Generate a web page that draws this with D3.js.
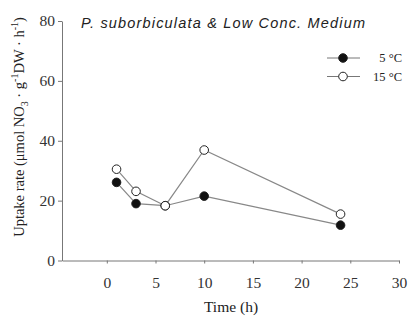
<!DOCTYPE html>
<html>
<head>
<meta charset="utf-8">
<script src="https://cdn.jsdelivr.net/npm/d3@7"></script>
<style>
  body { margin: 0; background: #fff; }
  svg { display: block; }
</style>
</head>
<body>
<div id="app"></div>
<script>
// data
const times = [1, 3, 6, 10, 24]
const cold = [26.1, 19.0, 18.3, 21.5, 11.8]   // 5 °C
const warm = [30.5, 23.1, 18.3, 36.9, 15.5]   // 15 °C
const xTicks = [0, 5, 10, 15, 20, 25, 30]
const yTicks = [0, 20, 40, 60, 80]

const W = 417, H = 322
const svg = d3.select('#app').append('svg').attr('width', W).attr('height', H)

const x = d3.scaleLinear().domain([-4.6, 30]).range([62, 399])
const y = d3.scaleLinear().domain([0, 80]).range([260.5, 21])

const serif = '"Liberation Serif", "Times New Roman", serif'

// axes
const xAxis = svg.append('g').attr('transform', 'translate(0,260.5)')
  .call(d3.axisBottom(x).tickValues(xTicks).tickSize(3).tickPadding(13).tickSizeOuter(0))
const yAxis = svg.append('g').attr('transform', 'translate(62,0)')
  .call(d3.axisLeft(y).tickValues(yTicks).tickSize(4).tickPadding(3).tickSizeOuter(0))

for (const a of [xAxis, yAxis]) {
  a.select('.domain').attr('stroke', '#777')
  a.selectAll('.tick line').attr('stroke', '#777')
  a.selectAll('.tick text').attr('fill', '#333').style('font-family', serif).style('font-size', '15.5px')
}

// lines + markers
const line = d3.line().x((d, i) => x(times[i])).y(d => y(d))
const series = [
  {vals: warm, fill: '#fff'},
  {vals: cold, fill: '#111'}
]
for (const s of series) {
  svg.append('path').attr('d', line(s.vals)).attr('fill', 'none').attr('stroke', '#888').attr('stroke-width', 1.2)
}
// draw filled first so open markers sit on top at the shared point
for (const s of [series[1], series[0]]) {
  svg.selectAll(null).data(s.vals).enter().append('circle')
    .attr('cx', (d, i) => x(times[i])).attr('cy', d => y(d)).attr('r', 4.3)
    .attr('fill', s.fill).attr('stroke', '#222').attr('stroke-width', 1)
}

// title
svg.append('text').attr('x', 81).attr('y', 28)
  .attr('textLength', 284).attr('lengthAdjust', 'spacing')
  .style('font-family', '"Liberation Sans", Arial, sans-serif').style('font-style', 'italic')
  .style('font-size', '14.5px').attr('fill', '#222')
  .text('P. suborbiculata & Low Conc. Medium')

// legend
const legend = [{label: '5 °C', fill: '#111', yy: 58}, {label: '15 °C', fill: '#fff', yy: 76.5}]
for (const l of legend) {
  svg.append('line').attr('x1', 327).attr('x2', 360).attr('y1', l.yy).attr('y2', l.yy).attr('stroke', '#777')
  svg.append('circle').attr('cx', 343).attr('cy', l.yy).attr('r', 4.3).attr('fill', l.fill).attr('stroke', '#222')
  svg.append('text').attr('x', 402).attr('y', l.yy + 4).attr('text-anchor', 'end')
    .style('font-family', serif).style('font-size', '12.5px').attr('fill', '#222').text(l.label)
}

// axis titles
svg.append('text').attr('x', 231).attr('y', 312).attr('text-anchor', 'middle')
  .style('font-family', serif).style('font-size', '15.5px').attr('fill', '#222').text('Time (h)')

const yl = svg.append('text').attr('transform', 'translate(24,127) rotate(-90)').attr('text-anchor', 'middle')
  .style('font-family', serif).style('font-size', '14.5px').attr('fill', '#222')
yl.append('tspan').text('Uptake rate (μmol NO')
yl.append('tspan').attr('dy', 4).style('font-size', '10px').text('3')
yl.append('tspan').attr('dy', -4).text(' · g')
yl.append('tspan').attr('dy', -6).style('font-size', '10px').text('-1')
yl.append('tspan').attr('dy', 6).text('DW · h')
yl.append('tspan').attr('dy', -6).style('font-size', '10px').text('-1')
yl.append('tspan').attr('dy', 6).text(')')
</script>
</body>
</html>
